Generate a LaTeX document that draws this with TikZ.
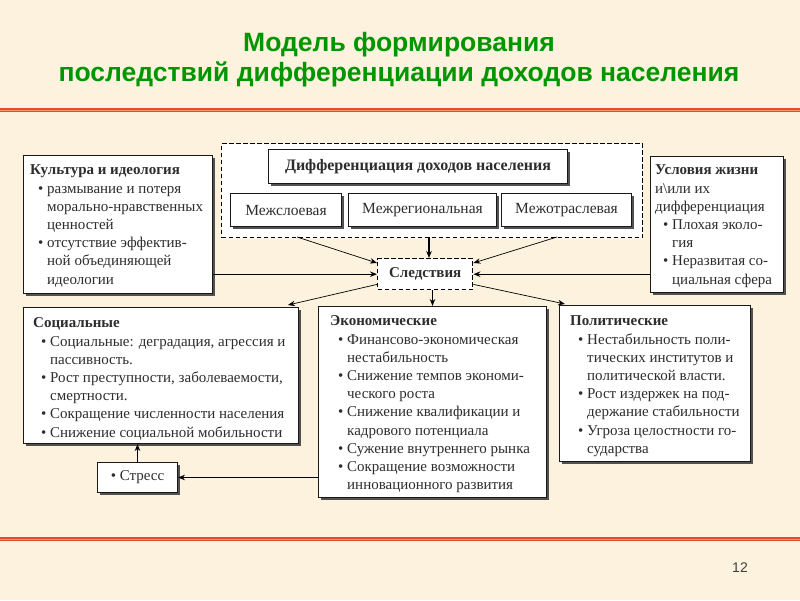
\documentclass[tikz,border=0pt]{standalone}
\usepackage{fontspec}
\setmainfont{Liberation Serif}
\newfontfamily\titlefont{Liberation Sans}
\usetikzlibrary{arrows.meta,shadows,calc}
\definecolor{bg}{RGB}{252,242,222}
\definecolor{tgreen}{RGB}{0,150,0}
\definecolor{rline}{RGB}{228,78,38}
\definecolor{rlinel}{RGB}{248,150,100}
\definecolor{txt}{RGB}{45,45,45}
\newcommand\bul{\makebox[17pt][l]{\hspace{8pt}\textbullet}}
\newcommand\ind{\makebox[17pt]{}}
\begin{document}
\begin{tikzpicture}[x=1pt,y=-1pt,
  box/.style={draw=black!90, fill=white, line width=1pt, inner sep=0pt, anchor=north west,
    drop shadow={shadow xshift=2pt, shadow yshift=-2pt, fill=black!75, opacity=0.9}},
  dbox/.style={draw=black, fill=white, line width=1.4pt, dash pattern=on 4.5pt off 2.5pt, inner sep=0pt, anchor=north west},
  txtblk/.style={anchor=north west, inner sep=0pt, align=left, text=txt, font=\fontsize{15}{18.2}\selectfont},
  lbl/.style={text=txt, font=\fontsize{15.5}{18}\selectfont},
  arr/.style={-{Stealth[length=7pt,width=5.5pt]}, line width=1.3pt, draw=black},
  thinarr/.style={-{Stealth[length=7pt,width=5.5pt]}, line width=0.7pt, draw=black}
]
\useasboundingbox (0,0) rectangle (800,600);
\fill[bg] (0,0) rectangle (800,600);
% title
\node[font=\titlefont\bfseries\fontsize{26.5}{30}\selectfont, text=tgreen, align=center] (title) at (399,60)
  {Модель формирования\\последствий дифференциации доходов населения};
% red lines
\draw[line width=3.5pt, rline] (0,110) -- (800,110);
\draw[line width=0.9pt, rlinel] (0,110) -- (800,110);
\draw[line width=3.5pt, rline] (0,539) -- (800,539);
\draw[line width=0.9pt, rlinel] (0,539) -- (800,539);
\node[font=\titlefont\fontsize{14}{16}\selectfont, text=black!75] (pg) at (740,568) {12};

% top dashed group
\node[dbox, minimum width=421pt, minimum height=94pt] (outer) at (221,143) {};
\node[box, minimum width=299pt, minimum height=34pt] (diff) at (268,149) {};
\node[lbl, font=\bfseries\fontsize{16}{18}\selectfont] (difft) at (diff.center) {Дифференциация доходов населения};
\node[box, minimum width=111pt, minimum height=33pt] (m1) at (230,193) {};
\node[lbl] (m1t) at (m1.center) {Межслоевая};
\node[box, minimum width=148pt, minimum height=33pt] (m2) at (348,193) {};
\node[lbl] (m2t) at (m2.center) {Межрегиональная};
\node[box, minimum width=130pt, minimum height=33pt] (m3) at (501,193) {};
\node[lbl] (m3t) at (m3.center) {Межотраслевая};

% Consequences
\node[dbox, minimum width=95pt, minimum height=31pt] (sl) at (377,258) {};
\node[lbl, font=\bfseries\fontsize{15}{18}\selectfont] (slt) at (sl.center) {Следствия};

% culture
\node[box, minimum width=189pt, minimum height=138pt] (cult) at (23,155) {};
\node[txtblk] (cultt) at ($(cult.north west)+(7,7)$) {\strut\textbf{Культура и идеология}\\
\bul размывание и потеря\\
\ind морально-нравственных\\
\ind ценностей\\
\bul отсутствие эффектив-\\
\ind ной объединяющей\\
\ind идеологии};

% conditions
\node[box, minimum width=133pt, minimum height=136pt] (cond) at (650,156) {};
\node[txtblk] (condt) at ($(cond.north west)+(5,6)$) {\strut\textbf{Условия жизни}\\
и\textbackslash или их\\
дифференциация\\
\bul Плохая эколо-\\
\ind гия\\
\bul Неразвитая со-\\
\ind циальная сфера};

% social
\node[box, minimum width=275pt, minimum height=136pt] (soc) at (23,307) {};
\node[txtblk] (soct) at ($(soc.north west)+(10,8)$) {\strut\textbf{Социальные}\\
\bul Социальные: деградация, агрессия и\\
\ind пассивность.\\
\bul Рост преступности, заболеваемости,\\
\ind смертности.\\
\bul Сокращение численности населения\\
\bul Снижение социальной мобильности};

% economic
\node[box, minimum width=228pt, minimum height=191pt] (econ) at (318,306) {};
\node[txtblk] (econt) at ($(econ.north west)+(12,7)$) {\strut\textbf{Экономические}\\
\bul Финансово-экономическая\\
\ind нестабильность\\
\bul Снижение темпов экономи-\\
\ind ческого роста\\
\bul Снижение квалификации и\\
\ind кадрового потенциала\\
\bul Сужение внутреннего рынка\\
\bul Сокращение возможности\\
\ind инновационного развития};

% political
\node[box, minimum width=191pt, minimum height=156pt] (pol) at (559,305) {};
\node[txtblk] (polt) at ($(pol.north west)+(11,8)$) {\strut\textbf{Политические}\\
\bul Нестабильность поли-\\
\ind тических институтов и\\
\ind политической власти.\\
\bul Рост издержек на под-\\
\ind держание стабильности\\
\bul Угроза целостности го-\\
\ind сударства};

% stress
\node[box, minimum width=80pt, minimum height=30pt] (str) at (97,462) {};
\node[lbl, font=\fontsize{15}{18}\selectfont] (strt) at (str.center) {\textbullet\ Стресс};

% connectors into consequences
\coordinate (o1) at (297,237);
\coordinate (o2) at (429,237);
\coordinate (o3) at (557,237);
\draw[thinarr] (o1) -- ([yshift=-5pt]sl.north west);
\draw[arr] (o2) -- (o2 |- sl.north);
\draw[thinarr] (o3) -- ([yshift=-5pt]sl.north east);
\draw[arr] (cult.east |- sl.west) -- (sl.west);
\draw[arr] (cond.west |- sl.east) -- (sl.east);
% connectors out of consequences
\draw[thinarr] ([yshift=6pt]sl.south west) -- ([xshift=-11pt,yshift=2pt]soc.north east);
\draw[arr] (sl.south -| econ.north) -- (econ.north);
\draw[thinarr] ([yshift=6pt]sl.south east) -- ([xshift=6pt,yshift=1pt]pol.north west);
% stress
\draw[arr, line width=0.8pt] (econ.west |- str.east) -- (str.east);
\draw[arr] (str.north) -- (str.north |- soc.south);
\end{tikzpicture}
\end{document}
